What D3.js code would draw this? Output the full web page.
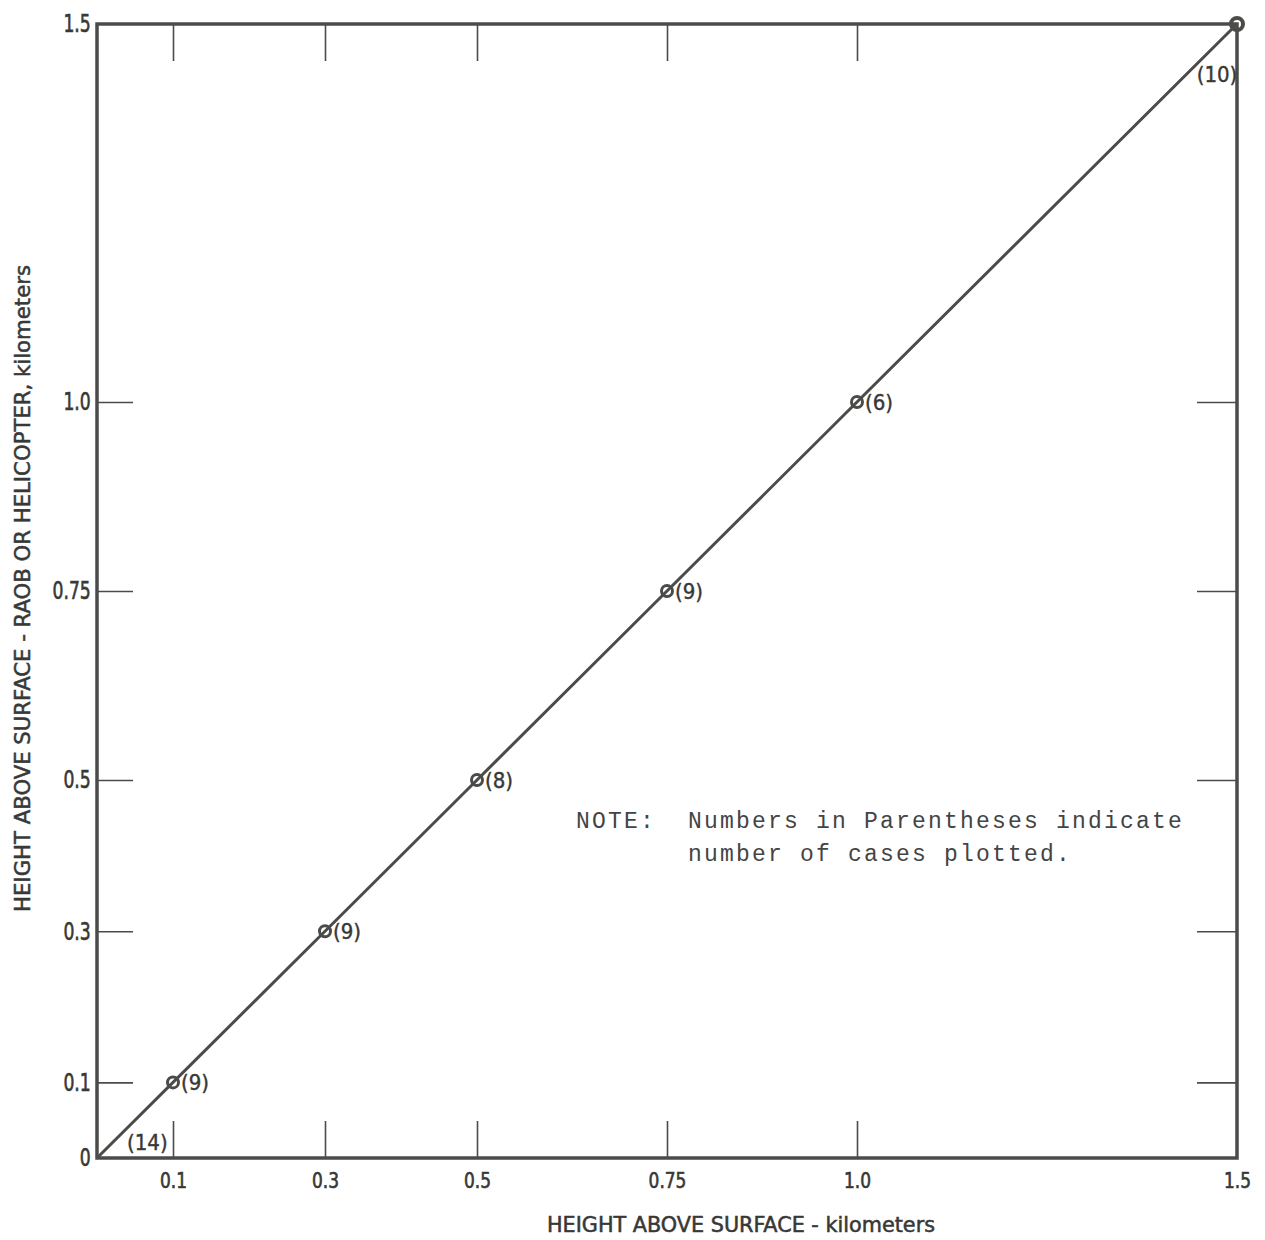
<!DOCTYPE html>
<html>
<head>
<meta charset="utf-8">
<script src="https://cdnjs.cloudflare.com/ajax/libs/d3/7.8.5/d3.min.js"></script>
<style>
  body { margin: 0; background: #fff; }
  .cond { font-family: "Liberation Sans Narrow", "DejaVu Sans Condensed", "Roboto Condensed", sans-serif; font-stretch: condensed; }
  .tick text { font-family: "Liberation Sans Narrow", "DejaVu Sans Condensed", sans-serif; font-stretch: condensed; }
</style>
</head>
<body>
<div id="chart"></div>
<script>

// values (km)
var heightX = [0, 0.1, 0.3, 0.5, 0.75, 1.0, 1.5];
var heightY = [0, 0.1, 0.3, 0.5, 0.75, 1.0, 1.5];
var cases   = [14, 9, 9, 8, 9, 6, 10];

var xTicks = [0.1, 0.3, 0.5, 0.75, 1.0, 1.5];
var xTickLabels = ["0.1", "0.3", "0.5", "0.75", "1.0", "1.5"];
var yTicks = [0, 0.1, 0.3, 0.5, 0.75, 1.0, 1.5];
var yTickLabels = ["0", "0.1", "0.3", "0.5", "0.75", "1.0", "1.5"];
var innerTicks = [0.1, 0.3, 0.5, 0.75, 1.0];

var width = 1265, height = 1240;
var margin = { left: 97, right: 28, top: 24, bottom: 82 };
var ink = "#4b4b49";
var textInk = "#383836";

var svg = d3.select("#chart").append("svg")
    .attr("width", width)
    .attr("height", height);

var x = d3.scaleLinear().domain([0, 1.5]).range([margin.left, width - margin.right]);
var y = d3.scaleLinear().domain([0, 1.5]).range([height - margin.bottom, margin.top]);

function styleAxis(size, squeeze) {
  return function(g) {
    g.select(".domain").remove();
    g.selectAll(".tick line").attr("stroke", ink).attr("stroke-width", 1.6);
    g.selectAll(".tick text")
      .attr("fill", textInk)
      .attr("stroke", textInk)
      .attr("stroke-width", 0.6)
      .attr("font-size", size)
      .attr("transform", "scale(" + squeeze + ",1)");
  };
}

// bottom axis, ticks pointing inward
svg.append("g")
    .attr("transform", "translate(0," + y(0) + ")")
    .call(d3.axisBottom(x).tickValues(xTicks)
      .tickFormat(function(d, i) { return xTickLabels[i]; })
      .tickSize(-37).tickPadding(15))
    .call(styleAxis(21, 0.9));

// top axis, no labels
svg.append("g")
    .attr("transform", "translate(0," + y(1.5) + ")")
    .call(d3.axisTop(x).tickValues(innerTicks).tickFormat("").tickSize(-37))
    .call(styleAxis(21, 1));

// left axis
svg.append("g")
    .attr("transform", "translate(" + x(0) + ",0)")
    .call(d3.axisLeft(y).tickValues(yTicks)
      .tickFormat(function(d, i) { return yTickLabels[i]; })
      .tickSize(-36).tickPadding(8))
    .call(styleAxis(24.5, 0.78));

// right axis, no labels
svg.append("g")
    .attr("transform", "translate(" + x(1.5) + ",0)")
    .call(d3.axisRight(y).tickValues(innerTicks).tickFormat("").tickSize(-40))
    .call(styleAxis(21, 1));

// no tick lines at the corners
svg.selectAll(".tick").filter(function(d) { return d === 0 || d === 1.5; })
    .select("line").remove();

// frame
svg.append("rect")
    .attr("x", x(0)).attr("y", y(1.5))
    .attr("width", x(1.5) - x(0)).attr("height", y(0) - y(1.5))
    .attr("fill", "none").attr("stroke", ink).attr("stroke-width", 3.5);

// 1:1 line through the points
var pts = heightX.map(function(d, i) { return { x: d, y: heightY[i], n: cases[i] }; });

svg.append("path")
    .datum(pts)
    .attr("fill", "none")
    .attr("stroke", ink)
    .attr("stroke-width", 3)
    .attr("d", d3.line().x(function(d) { return x(d.x); }).y(function(d) { return y(d.y); }));

svg.selectAll("circle.pt")
    .data(pts.filter(function(d) { return d.x > 0; }))
    .enter().append("circle")
    .attr("class", "pt")
    .attr("cx", function(d) { return x(d.x); })
    .attr("cy", function(d) { return y(d.y); })
    .attr("r", function(d) { return d.x === 1.5 ? 6 : 5.5; })
    .attr("fill", "none")
    .attr("stroke", ink)
    .attr("stroke-width", function(d) { return d.x === 1.5 ? 4 : 3; });

// case counts
svg.selectAll("text.count")
    .data(pts)
    .enter().append("text")
    .attr("class", "count cond")
    .attr("x", function(d) {
      if (d.x === 0) return x(d.x) + 30;
      if (d.x === 1.5) return x(d.x) - 20;
      return x(d.x) + 8;
    })
    .attr("y", function(d) {
      if (d.x === 0) return y(d.y) - 8;
      if (d.x === 1.5) return y(d.y) + 58;
      return y(d.y) + 8;
    })
    .attr("text-anchor", function(d) { return d.x === 1.5 ? "middle" : "start"; })
    .attr("font-size", 22)
    .attr("fill", textInk)
    .attr("stroke", textInk)
    .attr("stroke-width", 0.4)
    .text(function(d) { return "(" + d.n + ")"; });

// axis titles
svg.append("text")
    .attr("class", "cond")
    .attr("x", 547).attr("y", 1232)
    .attr("font-size", 21)
    .attr("textLength", 388)
    .attr("lengthAdjust", "spacingAndGlyphs")
    .attr("fill", textInk)
    .attr("stroke", textInk)
    .attr("stroke-width", 0.5)
    .text("HEIGHT ABOVE SURFACE  -  kilometers");

svg.append("text")
    .attr("class", "cond")
    .attr("transform", "translate(30,912) rotate(-90)")
    .attr("font-size", 21)
    .attr("textLength", 647)
    .attr("lengthAdjust", "spacingAndGlyphs")
    .attr("fill", textInk)
    .attr("stroke", textInk)
    .attr("stroke-width", 0.5)
    .text("HEIGHT ABOVE SURFACE  -  RAOB OR HELICOPTER, kilometers");

// typewritten note
var note = svg.append("g")
    .attr("font-family", "'Liberation Mono', 'DejaVu Sans Mono', monospace")
    .attr("font-size", 23)
    .attr("letter-spacing", "2.2px")
    .attr("fill", "#444");
note.append("text").attr("x", 576).attr("y", 828).text("NOTE:");
note.append("text").attr("x", 688).attr("y", 828).text("Numbers in Parentheses indicate");
note.append("text").attr("x", 688).attr("y", 861).text("number of cases plotted.");

</script>
</body>
</html>
